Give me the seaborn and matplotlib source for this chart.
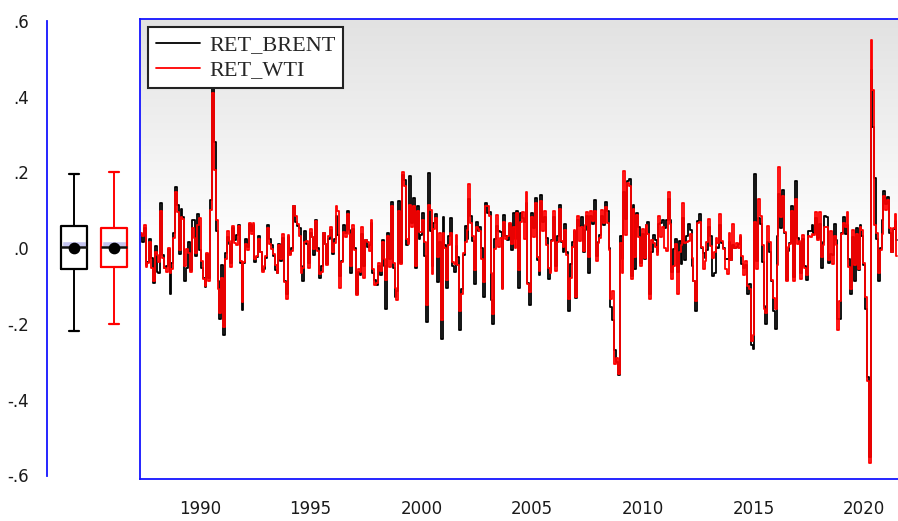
import numpy as np
import pandas as pd
import matplotlib
matplotlib.use("Agg")
import matplotlib.pyplot as plt
from matplotlib.colors import LinearSegmentedColormap
import seaborn as sns

# monthly log returns, first observation 1987M05
START = "1987-05"
ret_wti = [
    0.040, 0.032, 0.061, -0.049, -0.039, 0.017, -0.052, -0.087,
    -0.009, -0.019, -0.036, 0.098, -0.025, -0.052, -0.064, 0.001, -0.065, -0.054, 0.027, 0.147,
    0.095, -0.004, 0.082, 0.078, -0.046, -0.003, -0.014, -0.063, 0.053, 0.026, -0.012, 0.061,
    0.080, -0.033, -0.081, -0.101, -0.013, -0.086, 0.100, 0.410, 0.205, 0.073, -0.109, -0.170,
    -0.078, -0.209, -0.029, 0.046, 0.019, -0.050, 0.058, 0.013, 0.009, 0.059, -0.034, -0.141,
    -0.037, 0.012, -0.005, 0.067, 0.036, 0.065, -0.028, -0.020, 0.025, -0.009, -0.064, -0.047,
    -0.020, 0.054, 0.011, -0.003, -0.015, -0.044, -0.065, 0.007, -0.029, 0.036, -0.089, -0.134,
    0.035, -0.017, -0.007, 0.112, 0.086, 0.063, 0.031, -0.067, -0.052, 0.015, 0.020, -0.052,
    0.050, 0.029, -0.002, 0.071, -0.008, -0.068, -0.063, 0.039, 0.012, -0.045, 0.032, 0.056,
    -0.010, 0.013, 0.111, 0.097, -0.104, -0.036, 0.042, 0.028, 0.090, 0.037, -0.048, 0.062,
    -0.004, -0.125, -0.056, -0.062, 0.055, -0.078, 0.021, 0.015, -0.008, 0.074, -0.055, -0.097,
    -0.092, -0.040, -0.060, 0.015, -0.029, -0.083, 0.032, -0.051, 0.110, -0.039, -0.106, -0.136,
    0.098, -0.042, 0.201, 0.165, 0.023, 0.011, 0.115, 0.057, 0.112, -0.048, 0.097, 0.043,
    0.043, 0.075, 0.016, -0.149, 0.113, 0.100, -0.069, 0.051, 0.080, -0.023, 0.039, -0.191,
    0.040, 0.001, -0.083, 0.009, 0.041, -0.037, -0.043, 0.035, -0.044, -0.167, -0.121, -0.013,
    0.017, 0.049, 0.169, 0.065, 0.032, -0.058, 0.055, 0.051, 0.044, -0.028, -0.090, 0.112,
    0.112, 0.084, -0.067, -0.174, -0.002, 0.087, 0.003, 0.026, -0.109, 0.069, 0.025, 0.032,
    0.066, 0.011, 0.057, 0.000, 0.092, -0.057, 0.070, 0.096, 0.023, 0.148, -0.095, -0.116,
    0.082, 0.028, 0.118, -0.023, -0.061, 0.123, 0.046, 0.097, 0.009, -0.052, -0.065, 0.019,
    0.097, -0.061, 0.017, 0.102, 0.020, 0.002, 0.048, -0.019, -0.135, -0.080, 0.003, 0.048,
    -0.128, 0.084, 0.019, 0.057, -0.008, 0.062, 0.094, -0.024, 0.099, 0.071, 0.099, -0.033,
    0.014, 0.026, 0.100, 0.065, 0.108, 0.065, -0.004, -0.134, -0.114, -0.307, -0.290, -0.332,
    0.014, -0.065, 0.204, 0.035, 0.173, 0.165, -0.082, 0.102, -0.023, 0.087, 0.030, -0.046,
    0.051, -0.025, 0.061, 0.037, -0.134, 0.021, 0.013, 0.004, -0.018, 0.085, 0.028, 0.057,
    0.000, -0.007, 0.149, 0.063, -0.082, -0.047, 0.011, -0.120, -0.009, 0.009, 0.118, 0.014,
    0.017, 0.019, 0.038, -0.027, -0.088, -0.140, 0.066, 0.068, 0.004, -0.055, -0.034, 0.015,
    0.076, 0.006, -0.025, -0.010, 0.027, 0.013, 0.089, 0.018, -0.003, -0.056, -0.069, 0.039,
    -0.031, 0.063, 0.000, 0.013, 0.001, 0.035, -0.021, -0.070, -0.035, -0.099, -0.108, -0.246,
    -0.228, 0.069, -0.056, 0.130, 0.085, 0.009, -0.161, -0.172, 0.059, 0.016, -0.085, -0.132,
    -0.160, -0.044, 0.214, 0.082, 0.137, 0.043, -0.088, 0.002, 0.010, 0.097, -0.086, 0.129,
    0.010, 0.018, -0.081, 0.034, -0.052, -0.070, 0.032, 0.030, 0.036, 0.035, 0.094, 0.022,
    0.096, -0.023, 0.008, 0.055, 0.055, -0.031, 0.045, -0.042, 0.031, 0.007, -0.217, -0.140,
    0.037, 0.067, 0.057, 0.094, -0.049, -0.107, 0.048, -0.045, 0.038, -0.054, 0.055, 0.049,
    -0.040, -0.129, -0.350, -0.567, 0.548, 0.416, 0.060, 0.040, -0.066, -0.006, 0.038, 0.138,
    0.101, 0.127, 0.054, -0.010, 0.054, 0.091, -0.020,
]
ret_brent = [
    0.035, 0.015, 0.052, -0.045, -0.036, 0.024, -0.027, -0.091,
    0.005, -0.063, -0.066, 0.119, -0.018, -0.052, -0.048, -0.002, -0.120, -0.040, 0.040, 0.160,
    0.115, -0.016, 0.102, 0.083, -0.087, -0.053, 0.017, -0.059, 0.073, 0.073, -0.021, 0.091,
    -0.004, -0.053, -0.079, -0.102, -0.016, -0.080, 0.128, 0.450, 0.280, 0.045, -0.087, -0.188,
    -0.045, -0.230, -0.013, 0.028, 0.011, -0.040, 0.054, 0.022, 0.034, 0.060, -0.040, -0.164,
    -0.040, 0.025, 0.004, 0.064, 0.046, 0.060, -0.036, -0.024, 0.033, -0.010, -0.059, -0.054,
    -0.025, 0.062, 0.025, 0.007, -0.020, -0.058, -0.067, 0.012, -0.033, 0.027, -0.088, -0.120,
    0.029, -0.016, -0.001, 0.110, 0.068, 0.059, 0.053, -0.048, -0.086, 0.046, 0.012, -0.040,
    0.041, 0.029, -0.019, 0.074, 0.000, -0.078, -0.048, 0.041, 0.010, -0.041, 0.024, 0.049,
    -0.015, 0.024, 0.084, 0.035, -0.073, -0.034, 0.061, 0.040, 0.097, 0.048, -0.065, 0.050,
    0.000, -0.122, -0.064, -0.071, 0.038, -0.048, 0.021, 0.003, 0.007, 0.067, -0.066, -0.085,
    -0.098, -0.048, -0.070, 0.021, -0.047, -0.160, 0.040, -0.029, 0.122, -0.052, -0.130, -0.112,
    0.123, -0.039, 0.193, 0.180, 0.009, 0.015, 0.190, 0.065, 0.131, -0.053, 0.111, 0.024,
    0.034, 0.092, -0.021, -0.195, 0.198, 0.045, -0.047, 0.067, 0.091, -0.090, 0.017, -0.240,
    0.083, 0.007, -0.104, 0.031, 0.080, -0.048, -0.064, 0.005, -0.024, -0.215, -0.107, -0.017,
    0.059, 0.024, 0.129, 0.084, 0.018, -0.095, 0.069, 0.045, 0.055, 0.001, -0.130, 0.120,
    0.093, 0.094, -0.138, -0.200, 0.025, 0.059, 0.044, 0.043, -0.104, 0.087, 0.033, 0.022,
    0.063, -0.005, 0.092, 0.024, 0.098, -0.104, 0.093, 0.080, 0.068, 0.120, -0.091, -0.150,
    0.092, 0.053, 0.131, -0.031, -0.070, 0.140, 0.070, 0.082, 0.026, -0.082, -0.061, 0.022,
    0.082, -0.046, 0.033, 0.113, 0.017, -0.009, 0.064, -0.011, -0.165, -0.042, 0.015, 0.044,
    -0.131, 0.073, 0.059, 0.081, -0.009, 0.048, 0.086, -0.066, 0.085, 0.063, 0.126, -0.022,
    0.017, 0.034, 0.086, 0.061, 0.121, 0.098, 0.000, -0.155, -0.190, -0.270, -0.300, -0.335,
    0.033, -0.030, 0.147, 0.077, 0.178, 0.183, -0.074, 0.115, -0.056, 0.093, 0.057, -0.040,
    0.037, -0.030, 0.061, 0.069, -0.120, -0.010, 0.034, 0.022, -0.009, 0.064, 0.065, 0.073,
    0.054, 0.074, 0.130, 0.075, -0.064, -0.003, 0.024, -0.063, 0.020, -0.041, 0.080, -0.032,
    0.031, 0.063, 0.049, -0.047, -0.087, -0.165, 0.072, 0.091, 0.000, -0.012, -0.025, -0.005,
    0.056, 0.032, -0.073, -0.066, 0.004, 0.001, 0.060, 0.013, 0.001, -0.030, -0.030, 0.015,
    -0.031, 0.009, 0.000, 0.002, 0.010, 0.030, -0.043, -0.052, -0.044, -0.122, -0.094, -0.255,
    -0.267, 0.196, -0.035, 0.079, 0.063, -0.037, -0.153, -0.199, 0.015, -0.010, -0.086, -0.166,
    -0.214, 0.032, 0.142, 0.052, 0.154, 0.039, -0.083, -0.008, 0.013, 0.110, -0.075, 0.176,
    0.027, 0.014, -0.066, 0.023, -0.046, -0.083, 0.044, 0.046, 0.061, 0.040, 0.079, 0.027,
    0.064, -0.052, 0.016, 0.084, 0.082, -0.039, -0.015, -0.018, 0.063, 0.022, -0.186, -0.188,
    0.040, 0.081, 0.036, 0.061, -0.028, -0.120, 0.029, -0.086, 0.054, -0.058, 0.061, 0.032,
    -0.044, -0.160, -0.340, -0.550, 0.470, 0.320, 0.184, 0.025, -0.088, -0.001, 0.073, 0.150,
    0.116, 0.135, 0.041, -0.010, 0.050, 0.071, 0.021,
]

# box plot summary (Brent, WTI)
box_names = ["RET_BRENT", "RET_WTI"]
box_colors = ["black", "red"]
whisk_hi = [0.195, 0.200]
box_q3 = [0.057, 0.052]
box_med = [0.004, 0.004]
box_q1 = [-0.055, -0.051]
whisk_lo = [-0.219, -0.199]
box_mean = [0.0, 0.0]
ci_lo = [0.002, 0.002]
ci_hi = [0.020, 0.018]

ytick_vals = [-0.6, -0.4, -0.2, 0.0, 0.2, 0.4, 0.6]
ytick_labels = ["-.6", "-.4", "-.2", ".0", ".2", ".4", ".6"]
major_years = [1990, 1995, 2000, 2005, 2010, 2015, 2020]
minor_years = [y for y in range(1988, 2022) if y not in major_years]

assert len(ret_wti) == len(ret_brent)
dates = pd.date_range(START, periods=len(ret_wti), freq="MS")
t = dates.year + (dates.month - 1) / 12.0
df = pd.DataFrame({"t": t, "RET_BRENT": ret_brent, "RET_WTI": ret_wti})
long = df.melt(id_vars="t", var_name="series", value_name="ret")

sns.set_theme(style="white")
plt.rcParams["font.family"] = ["DejaVu Sans"]

BLUE = "#1414ff"
W, H = 898, 521
fig = plt.figure(figsize=(W / 100, H / 100), dpi=100)

# main time series panel
x0, x1 = 1987.29, 2021.53
y0, y1 = -0.610, 0.6037
ax = fig.add_axes([140 / W, (H - 479.3) / H, (W - 140) / W, 460 / H])
grad = LinearSegmentedColormap.from_list("bg", [(0, "#e2e2e2"), (0.5, "#ffffff"), (1, "#ffffff")])
ax.imshow(np.linspace(0, 1, 256).reshape(-1, 1), cmap=grad, aspect="auto",
          extent=[x0, x1, y0, y1], origin="upper", zorder=0)
sns.lineplot(data=long, x="t", y="ret", hue="series", hue_order=box_names,
             palette=dict(zip(box_names, box_colors)), estimator=None,
             linewidth=1.3, drawstyle="steps-mid", ax=ax, zorder=2)
ax.set_xlim(x0, x1)
ax.set_ylim(y0, y1)
ax.set_xlabel("")
ax.set_ylabel("")
ax.set_yticks([])
ax.set_xticks(major_years)
ax.set_xticklabels([str(y) for y in major_years])
ax.set_xticks(minor_years, minor=True)
ax.tick_params(axis="x", which="major", length=13, width=1.2, color=BLUE,
               direction="out", pad=2, labelsize=12, labelcolor="#1a1a1a")
ax.tick_params(axis="x", which="minor", length=7.5, width=1.2, color=BLUE, direction="out")
for s in ["left", "top", "bottom"]:
    ax.spines[s].set_color(BLUE)
    ax.spines[s].set_linewidth(1.3)
ax.spines["right"].set_visible(False)

handles, labels = ax.get_legend_handles_labels()
leg = ax.legend(handles, labels, loc="upper left", bbox_to_anchor=(0.0106, 0.983),
                borderaxespad=0, frameon=True, fancybox=False, framealpha=1,
                edgecolor="#222222", prop={"family": ["Liberation Serif"], "size": 16},
                handlelength=2.0, handletextpad=0.4, borderpad=0.35, labelspacing=0.2)
leg.get_frame().set_linewidth(1.5)
leg.set_zorder(5)
for ln in leg.get_lines():
    ln.set_linewidth(1.3)
    ln.set_drawstyle("default")

# box plot panel
axb = fig.add_axes([47 / W, (H - 475.5) / H, 93 / W, (475.5 - 20.7) / H])
axb.set_xlim(0.325, 2.65)
axb.set_ylim(-0.6, 0.6)
pos = [1, 2]
axb.bar(pos, np.array(ci_hi) - np.array(ci_lo), bottom=ci_lo, width=0.6,
        color="#c4c4f0", zorder=1)
stats = [dict(label=n, med=m, q1=a, q3=b, whislo=lo, whishi=hi, fliers=[])
         for n, m, a, b, lo, hi in zip(box_names, box_med, box_q1, box_q3, whisk_lo, whisk_hi)]
art = axb.bxp(stats, positions=pos, widths=0.65, capwidths=0.25, showfliers=False,
              patch_artist=False, manage_ticks=False)
for i, c in enumerate(box_colors):
    art["boxes"][i].set(color=c, linewidth=1.6)
    art["medians"][i].set(color="#111111", linewidth=1.8)
    for j in (2 * i, 2 * i + 1):
        art["whiskers"][j].set(color=c, linewidth=1.4)
        art["caps"][j].set(color=c, linewidth=1.6)
axb.scatter(pos, box_mean, s=55, color="black", zorder=4)
axb.set_xticks([])
axb.set_yticks(ytick_vals)
axb.set_yticklabels(ytick_labels)
axb.tick_params(axis="y", length=7, width=1.2, color=BLUE, direction="out",
                pad=6, labelsize=12, labelcolor="#1a1a1a")
for s in ["top", "right", "bottom"]:
    axb.spines[s].set_visible(False)
axb.spines["left"].set_color(BLUE)
axb.spines["left"].set_linewidth(1.3)
axb.patch.set_alpha(0)

fig.savefig("out.png", dpi=100)
